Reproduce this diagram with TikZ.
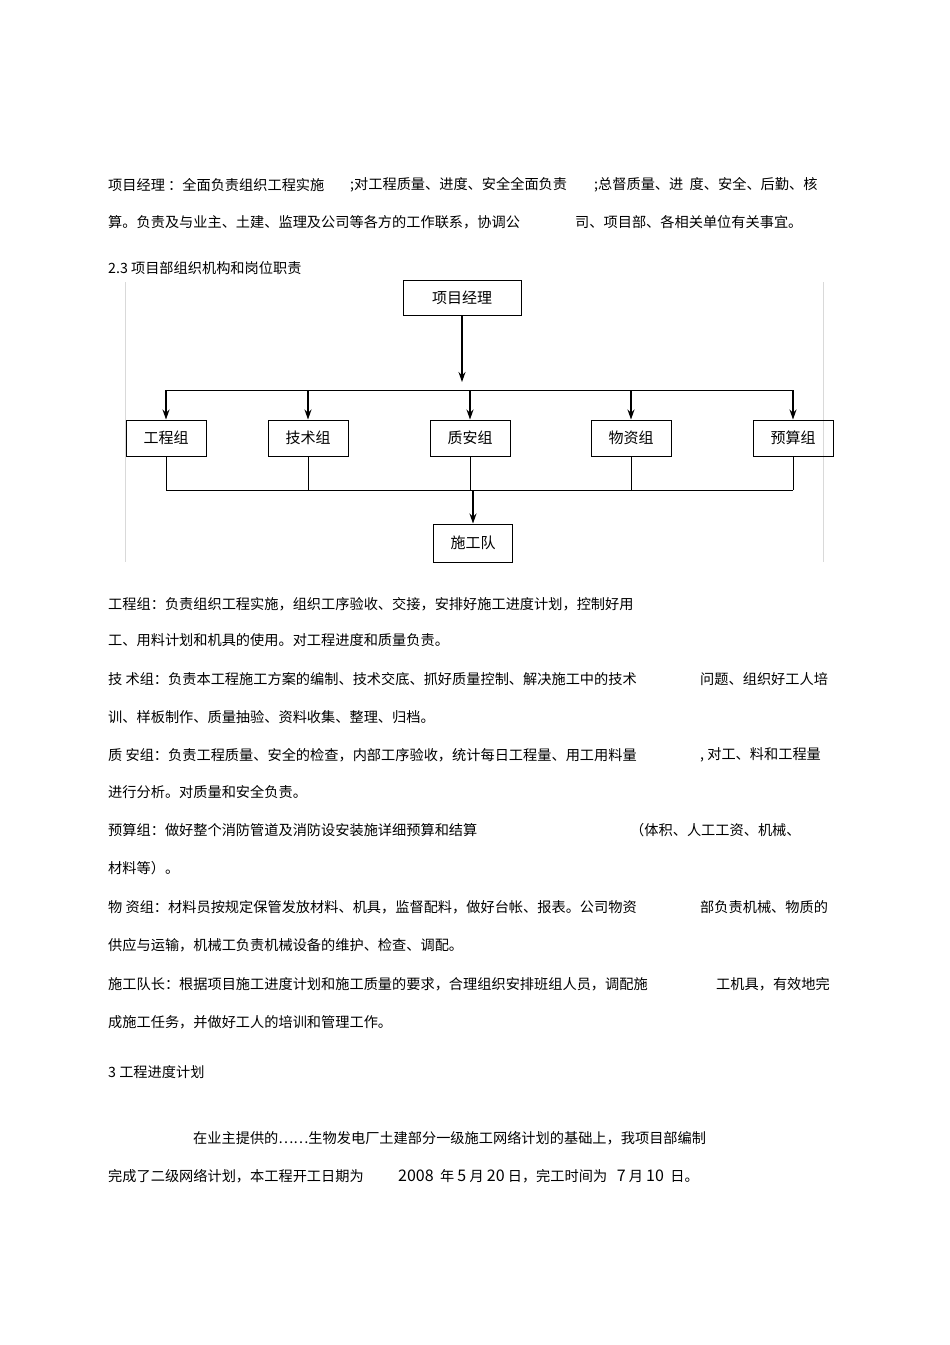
\documentclass[tikz,border=0pt]{standalone}
\usepackage{fontspec}
\setmainfont{Noto Sans CJK SC}
\usetikzlibrary{arrows.meta}
\begin{document}
\begin{tikzpicture}[x=1pt,y=-1pt,
  txt/.style={anchor=west,inner sep=0pt,font=\fontsize{14.2}{16}\selectfont},
  box/.style={draw,line width=1pt,minimum width=80pt,minimum height=36pt,inner sep=0pt,font=\fontsize{15}{17}\selectfont},
  arr/.style={line width=1.3pt,-{Stealth[length=10pt,width=7pt]}},
  ln/.style={line width=0.7pt}]
\useasboundingbox[fill=white] (0,0) rectangle (950,1345);
\node[txt] (t1a) at (108,185) {项目经理 ：全面负责组织工程实施};
\node[txt] (t1b) at (350,185) {;对工程质量、进度、安全全面负责};
\node[txt] (t1c) at (594,185) {;总督质量、进 \ 度、安全、后勤、核};
\node[txt] (t2a) at (108,222) {算。负责及与业主、土建、监理及公司等各方的工作联系，协调公};
\node[txt] (t2b) at (575,222) {司、项目部、各相关单位有关事宜。};
\node[txt] (h1) at (108,268) {2.3 项目部组织机构和岗位职责};
% chart
\draw[gray!30] (125,282) -- (125,562);
\draw[gray!30] (823,282) -- (823,562);
\node[box,minimum width=118pt,minimum height=35pt] (pm) at (462,298) {项目经理};
\node[box] (g1) at (166,438) {工程组};
\node[box] (g2) at (308,438) {技术组};
\node[box] (g3) at (470,438) {质安组};
\node[box] (g4) at (631,438) {物资组};
\node[box] (g5) at (793,438) {预算组};
\node[box,minimum width=79pt,minimum height=38pt] (sg) at (473,543) {施工队};
\coordinate (top) at (462,390);
\draw[arr] (pm.south) -- (462,382);
\draw[ln,line width=1pt] (g1.north |- top) -- (g5.north |- top);
\foreach \g in {g1,g2,g3,g4,g5} \draw[arr] (\g.north |- top) -- (\g.north);
\coordinate (bot) at (470,490);
\draw[ln] (g1.south |- bot) -- (g5.south |- bot);
\foreach \g in {g1,g2,g3,g4,g5} \draw[ln] (\g.south) -- (\g.south |- bot);
\draw[arr] (sg.north |- bot) -- (sg.north);
% text
\node[txt] (a1) at (108,604) {工程组：负责组织工程实施，组织工序验收、交接，安排好施工进度计划，控制好用};
\node[txt] (a2) at (108,640) {工、用料计划和机具的使用。对工程进度和质量负责。};
\node[txt] (b1) at (108,679) {技 术组：负责本工程施工方案的编制、技术交底、抓好质量控制、解决施工中的技术};
\node[txt] (b1b) at (700,679) {问题、组织好工人培};
\node[txt] (b2) at (108,717) {训、样板制作、质量抽验、资料收集、整理、归档。};
\node[txt] (c1) at (108,755) {质 安组：负责工程质量、安全的检查，内部工序验收，统计每日工程量、用工用料量};
\node[txt] (c1b) at (700,755) {, 对工、料和工程量};
\node[txt] (c2) at (108,792) {进行分析。对质量和安全负责。};
\node[txt] (d1) at (108,830) {预算组：做好整个消防管道及消防设安装施详细预算和结算};
\node[txt] (d1b) at (630,830) {（体积、人工工资、机械、};
\node[txt] (d2) at (108,868) {材料等）。};
\node[txt] (e1) at (108,907) {物 资组：材料员按规定保管发放材料、机具，监督配料，做好台帐、报表。公司物资};
\node[txt] (e1b) at (700,907) {部负责机械、物质的};
\node[txt] (e2) at (108,945) {供应与运输，机械工负责机械设备的维护、检查、调配。};
\node[txt] (f1) at (108,984) {施工队长：根据项目施工进度计划和施工质量的要求，合理组织安排班组人员，调配施};
\node[txt] (f1b) at (716,984) {工机具，有效地完};
\node[txt] (f2) at (108,1022) {成施工任务，并做好工人的培训和管理工作。};
\node[txt] (h2) at (108,1072) {3 工程进度计划};
\node[txt] (g1t) at (193,1138) {在业主提供的……生物发电厂土建部分一级施工网络计划的基础上，我项目部编制};
\node[txt] (g2t) at (108,1176) {完成了二级网络计划，本工程开工日期为};
\node[txt] (g2b) at (398,1176) {{\fontsize{16}{18}\selectfont 2008} \ 年 {\fontsize{16}{18}\selectfont 5} 月 {\fontsize{16}{18}\selectfont 20} 日，完工时间为 \ \ {\fontsize{16}{18}\selectfont 7} 月 {\fontsize{16}{18}\selectfont 10} \ 日。};
\end{tikzpicture}
\end{document}
